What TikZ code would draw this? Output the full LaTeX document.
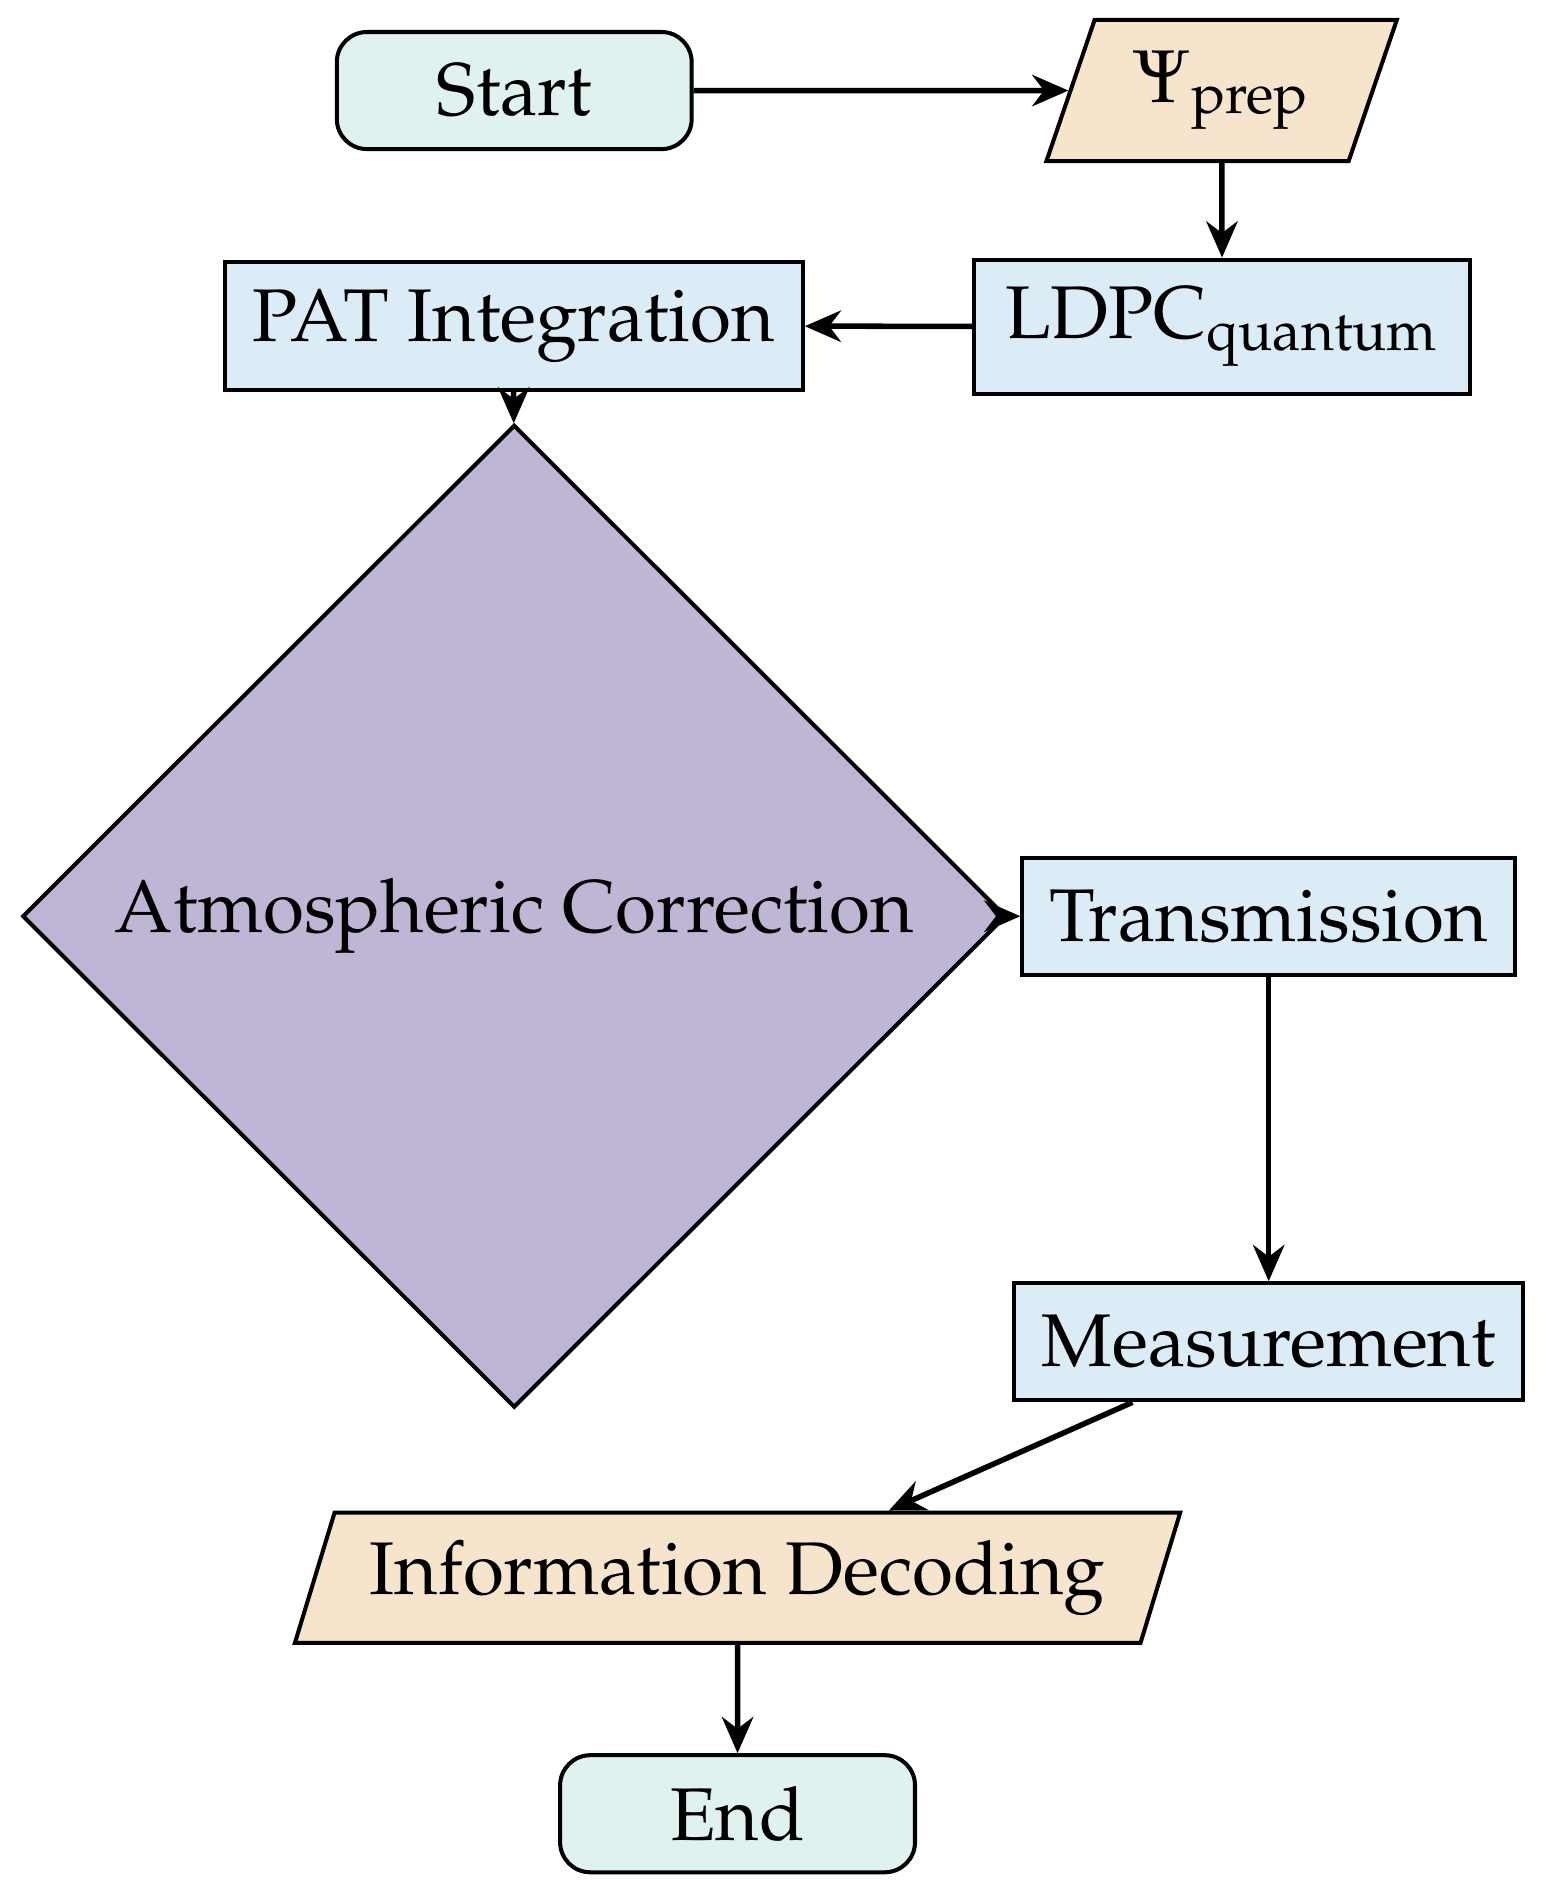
\documentclass[tikz,border=0pt]{standalone}
\usepackage[T1]{fontenc}
\usepackage{mathpazo}
\usepackage{xcolor}
\usepackage{tikz}
\usetikzlibrary{arrows.meta,shapes.geometric}

\definecolor{startcol}{RGB}{223,242,239}
\definecolor{iocol}{RGB}{246,229,204}
\definecolor{proccol}{RGB}{220,236,246}
\definecolor{deccol}{RGB}{191,182,214}

\begin{document}
\begin{tikzpicture}[font=\fontsize{17.6}{21}\selectfont]
\tikzstyle{myarrows}=[-{Stealth[length=3mm,width=2.6mm]},line width=1.3pt];
\tikzstyle{terminal}=[rectangle,rounded corners=0.25cm,draw,line width=0.95pt,fill=startcol,minimum width=2.94cm,minimum height=0.97cm];
\tikzstyle{iobox}=[trapezium,trapezium left angle=70,trapezium right angle=110,trapezium stretches=true,draw,line width=0.95pt,fill=iocol];
\tikzstyle{procbox}=[rectangle,draw,line width=0.95pt,fill=proccol];
\tikzstyle{decision}=[diamond,draw,line width=0.95pt,fill=deccol,minimum width=8.15cm,minimum height=8.14cm,inner sep=0pt];
\useasboundingbox (0,0) rectangle (12.8,-15.69);
\node[terminal](start) at (4.26,-0.75){Start};
\node[iobox,minimum width=2.92cm,minimum height=1.17cm](prep) at (10.12,-0.75){$\Psi_{\mathrm{prep}}$};
\node[procbox,minimum width=4.11cm,minimum height=1.11cm](ldpc) at (10.125,-2.705){LDPC$_{\mathrm{quantum}}$};
\node[procbox,minimum width=4.79cm,minimum height=1.06cm](pat) at (4.255,-2.70){PAT Integration};
\node[decision](atm) at (4.26,-7.59){Atmospheric Correction};
\node[procbox,minimum width=4.08cm,minimum height=0.97cm](trans) at (10.51,-7.59){Transmission};
\node[procbox,minimum width=4.22cm,minimum height=0.97cm](meas) at (10.51,-11.115){Measurement};
\node[iobox,minimum width=7.34cm,minimum height=1.08cm](info) at (6.11,-13.07){Information Decoding};
\node[terminal](end) at (6.11,-15.025){End};
\draw [myarrows] (start) -- (prep);
\draw [myarrows] (prep) -- (ldpc);
\draw [myarrows] (ldpc) -- (pat);
\draw [myarrows] (pat) -- (atm);
\draw [myarrows] (atm) -- (trans);
\draw [myarrows] (trans) -- (meas);
\draw [myarrows] (meas) -- (info);
\draw [myarrows] (info) -- (end);
\end{tikzpicture}
\end{document}
